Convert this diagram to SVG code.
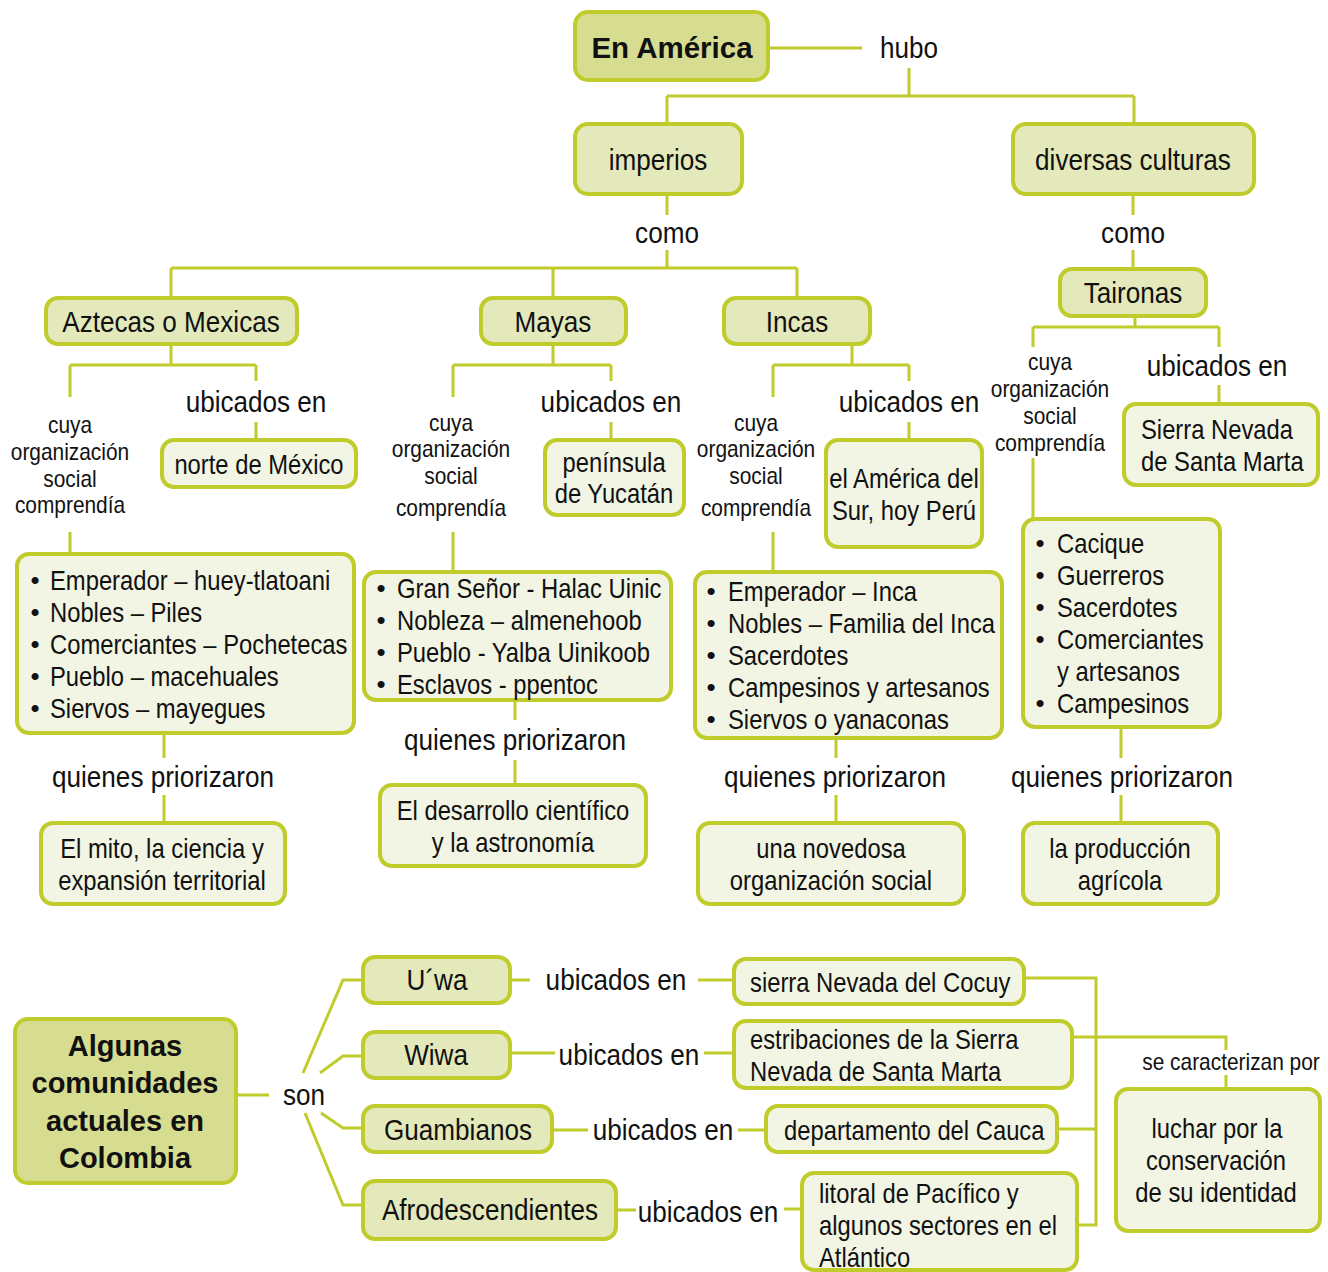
<svg xmlns="http://www.w3.org/2000/svg" width="1328" height="1272" viewBox="0 0 1328 1272">
<style>
.bx{stroke:#bfcc2c;stroke-width:4}
.d{fill:#d6dd91}.md{fill:#e3e9ba}.l{fill:#f2f5e4}
.t{font-family:"Liberation Sans",Arial,sans-serif;fill:#111;dominant-baseline:central;transform-box:fill-box;transform:scaleX(.87)}
.m{text-anchor:middle;transform-origin:50% 50%}
.s{text-anchor:start;transform-origin:0% 50%}
.f30{font-size:30px}.f28{font-size:28px;transform:scaleX(.85)}.f24{font-size:24px}
.bd{font-family:"Liberation Sans",Arial,sans-serif;font-weight:bold;fill:#111;text-anchor:middle;dominant-baseline:central}
.bu{font-family:"Liberation Sans",Arial,sans-serif;font-size:26px;fill:#111;dominant-baseline:central;text-anchor:middle}
</style>
<rect width="1328" height="1272" fill="#fff"/>
<g id="connectors" fill="none" stroke="#bfcc2c" stroke-width="3">
<path d="M768,48H862M909,68V96M667,96H1134M667,96V124M1134,96V124"/>
<path d="M667,194V215M667,250V268M171,268H797M171,268V298M553,268V298M797,268V298"/>
<path d="M1133,194V215M1133,250V269"/>
<path d="M1135,316V327M1033,327H1219M1033,327V347M1219,327V347M1033,458V519M1219,385V404"/>
<path d="M171,344V365M70,365H256M70,365V397M256,365V381M256,422V440M70,532V554M164,733V758M164,795V823"/>
<path d="M553,344V365M453,365H611M453,365V397M611,365V381M611,422V440M453,532V572M515,700V720M515,760V785"/>
<path d="M852,344V365M773,365H909M773,365V397M909,365V381M909,422V440M773,532V572M836,738V758M836,795V823"/>
<path d="M1121,727V758M1121,795V823"/>
<path d="M236,1095H269M303,1073L343,980H363M320,1073L343,1056H363M321,1113L343,1128H363M305,1113L343,1205H363"/>
<path d="M510,980H530M698,980H734M510,1053H555M704,1053H734M552,1130H588M738,1130H766M616,1210H636M784,1209H802"/>
<path d="M1024,978H1096V1225H1077M1057,1129H1096M1072,1037H1226V1050M1226,1075V1088"/>
</g>
<g id="en-america"><rect class="bx d" x="575" y="12" width="193" height="68" rx="13"/><text class="bd" x="672" y="47" font-size="29.5">En América</text></g>
<g id="hubo"><text class="t m f30" x="909" y="48">hubo</text></g>
<g id="imperios"><rect class="bx md" x="575" y="124" width="167" height="70" rx="13"/><text class="t m f30" x="658" y="160">imperios</text></g>
<g id="diversas"><rect class="bx md" x="1013" y="124" width="241" height="70" rx="13"/><text class="t m f30" x="1133" y="160">diversas culturas</text></g>
<g id="como1"><text class="t m f30" x="667" y="233">como</text></g>
<g id="como2"><text class="t m f30" x="1133" y="233">como</text></g>
<g id="taironas"><rect class="bx md" x="1060" y="269" width="146" height="47" rx="12"/><text class="t m f30" x="1133" y="293">Taironas</text></g>
<g id="aztecas"><rect class="bx md" x="46" y="298" width="251" height="46" rx="12"/><text class="t m f30" x="171" y="322">Aztecas o Mexicas</text></g>
<g id="mayas"><rect class="bx md" x="481" y="298" width="145" height="46" rx="12"/><text class="t m f30" x="553" y="322">Mayas</text></g>
<g id="incas"><rect class="bx md" x="724" y="298" width="146" height="46" rx="12"/><text class="t m f30" x="797" y="322">Incas</text></g>
<g id="lbl-ubicados"><text class="t m f30" x="256" y="402">ubicados en</text><text class="t m f30" x="611" y="402">ubicados en</text><text class="t m f30" x="909" y="402">ubicados en</text><text class="t m f30" x="1217" y="366">ubicados en</text></g>
<g id="lbl-cuya">
<text class="t m f24" x="70" y="425">cuya</text><text class="t m f24" x="70" y="452">organización</text><text class="t m f24" x="70" y="479">social</text><text class="t m f24" x="70" y="505">comprendía</text>
<text class="t m f24" x="451" y="423">cuya</text><text class="t m f24" x="451" y="449">organización</text><text class="t m f24" x="451" y="476">social</text><text class="t m f24" x="451" y="508">comprendía</text>
<text class="t m f24" x="756" y="423">cuya</text><text class="t m f24" x="756" y="449">organización</text><text class="t m f24" x="756" y="476">social</text><text class="t m f24" x="756" y="508">comprendía</text>
<text class="t m f24" x="1050" y="362">cuya</text><text class="t m f24" x="1050" y="389">organización</text><text class="t m f24" x="1050" y="416">social</text><text class="t m f24" x="1050" y="443">comprendía</text>
</g>
<g id="norte"><rect class="bx l" x="162" y="440" width="194" height="47" rx="12"/><text class="t m f28" x="259" y="464">norte de México</text></g>
<g id="peninsula"><rect class="bx l" x="545" y="440" width="139" height="75" rx="12"/><text class="t m f28" x="614" y="462">península</text><text class="t m f28" x="614" y="493">de Yucatán</text></g>
<g id="america-sur"><rect class="bx l" x="826" y="440" width="156" height="107" rx="12"/><text class="t m f28" x="904" y="478">el América del</text><text class="t m f28" x="904" y="510">Sur, hoy Perú</text></g>
<g id="sierra-nevada"><rect class="bx l" x="1124" y="404" width="194" height="81" rx="12"/><text class="t s f28" x="1141" y="429">Sierra Nevada</text><text class="t s f28" x="1141" y="461">de Santa Marta</text></g>
<g id="aztecas-lista"><rect class="bx l" x="17" y="554" width="337" height="179" rx="12"/>
<text class="bu" x="35" y="580">•</text><text class="t s f28" x="50" y="580">Emperador – huey-tlatoani</text>
<text class="bu" x="35" y="612">•</text><text class="t s f28" x="50" y="612">Nobles – Piles</text>
<text class="bu" x="35" y="644">•</text><text class="t s f28" x="50" y="644">Comerciantes – Pochetecas</text>
<text class="bu" x="35" y="676">•</text><text class="t s f28" x="50" y="676">Pueblo – macehuales</text>
<text class="bu" x="35" y="708">•</text><text class="t s f28" x="50" y="708">Siervos – mayegues</text></g>
<g id="mayas-lista"><rect class="bx l" x="364" y="572" width="307" height="128" rx="12"/>
<text class="bu" x="381" y="588">•</text><text class="t s f28" x="397" y="588">Gran Señor - Halac Uinic</text>
<text class="bu" x="381" y="620">•</text><text class="t s f28" x="397" y="620">Nobleza – almenehoob</text>
<text class="bu" x="381" y="652">•</text><text class="t s f28" x="397" y="652">Pueblo - Yalba Uinikoob</text>
<text class="bu" x="381" y="684">•</text><text class="t s f28" x="397" y="684">Esclavos - ppentoc</text></g>
<g id="incas-lista"><rect class="bx l" x="695" y="572" width="307" height="166" rx="12"/>
<text class="bu" x="711" y="591">•</text><text class="t s f28" x="728" y="591">Emperador – Inca</text>
<text class="bu" x="711" y="623">•</text><text class="t s f28" x="728" y="623">Nobles – Familia del Inca</text>
<text class="bu" x="711" y="655">•</text><text class="t s f28" x="728" y="655">Sacerdotes</text>
<text class="bu" x="711" y="687">•</text><text class="t s f28" x="728" y="687">Campesinos y artesanos</text>
<text class="bu" x="711" y="719">•</text><text class="t s f28" x="728" y="719">Siervos o yanaconas</text></g>
<g id="taironas-lista"><rect class="bx l" x="1023" y="519" width="197" height="208" rx="12"/>
<text class="bu" x="1040" y="543">•</text><text class="t s f28" x="1057" y="543">Cacique</text>
<text class="bu" x="1040" y="575">•</text><text class="t s f28" x="1057" y="575">Guerreros</text>
<text class="bu" x="1040" y="607">•</text><text class="t s f28" x="1057" y="607">Sacerdotes</text>
<text class="bu" x="1040" y="639">•</text><text class="t s f28" x="1057" y="639">Comerciantes</text>
<text class="t s f28" x="1057" y="671">y artesanos</text>
<text class="bu" x="1040" y="703">•</text><text class="t s f28" x="1057" y="703">Campesinos</text></g>
<g id="lbl-quienes"><text class="t m f30" x="163" y="777">quienes priorizaron</text><text class="t m f30" x="515" y="740">quienes priorizaron</text><text class="t m f30" x="835" y="777">quienes priorizaron</text><text class="t m f30" x="1122" y="777">quienes priorizaron</text></g>
<g id="el-mito"><rect class="bx l" x="41" y="823" width="244" height="81" rx="12"/><text class="t m f28" x="162" y="848">El mito, la ciencia y</text><text class="t m f28" x="162" y="880">expansión territorial</text></g>
<g id="desarrollo"><rect class="bx l" x="380" y="785" width="266" height="81" rx="12"/><text class="t m f28" x="513" y="810">El desarrollo científico</text><text class="t m f28" x="513" y="842">y la astronomía</text></g>
<g id="novedosa"><rect class="bx l" x="698" y="823" width="266" height="81" rx="12"/><text class="t m f28" x="831" y="848">una novedosa</text><text class="t m f28" x="831" y="880">organización social</text></g>
<g id="produccion"><rect class="bx l" x="1023" y="823" width="195" height="81" rx="12"/><text class="t m f28" x="1120" y="848">la producción</text><text class="t m f28" x="1120" y="880">agrícola</text></g>
<g id="algunas"><rect class="bx d" x="15" y="1019" width="221" height="164" rx="13"/>
<text class="bd" x="125" y="1046" font-size="29">Algunas</text><text class="bd" x="125" y="1083" font-size="29">comunidades</text><text class="bd" x="125" y="1121" font-size="29">actuales en</text><text class="bd" x="125" y="1158" font-size="29">Colombia</text></g>
<g id="son"><text class="t m f30" x="304" y="1095">son</text></g>
<g id="uwa"><rect class="bx md" x="363" y="957" width="147" height="46" rx="12"/><text class="t m f30" x="437" y="980">U´wa</text></g>
<g id="wiwa"><rect class="bx md" x="363" y="1032" width="147" height="46" rx="12"/><text class="t m f30" x="436" y="1055">Wiwa</text></g>
<g id="guambianos"><rect class="bx md" x="363" y="1106" width="189" height="46" rx="12"/><text class="t m f30" x="458" y="1130">Guambianos</text></g>
<g id="afro"><rect class="bx md" x="363" y="1181" width="253" height="58" rx="12"/><text class="t m f30" x="490" y="1210">Afrodescendientes</text></g>
<g id="lbl-ubicados2"><text class="t m f30" x="616" y="980">ubicados en</text><text class="t m f30" x="629" y="1055">ubicados en</text><text class="t m f30" x="663" y="1130">ubicados en</text><text class="t m f30" x="708" y="1212">ubicados en</text></g>
<g id="cocuy"><rect class="bx l" x="734" y="959" width="290" height="45" rx="12"/><text class="t s f28" x="750" y="982">sierra Nevada del Cocuy</text></g>
<g id="estribaciones"><rect class="bx l" x="734" y="1021" width="338" height="67" rx="12"/><text class="t s f28" x="750" y="1039">estribaciones de la Sierra</text><text class="t s f28" x="750" y="1071">Nevada de Santa Marta</text></g>
<g id="cauca"><rect class="bx l" x="766" y="1106" width="291" height="46" rx="12"/><text class="t s f28" x="784" y="1130">departamento del Cauca</text></g>
<g id="litoral"><rect class="bx l" x="802" y="1173" width="275" height="97" rx="12"/><text class="t s f28" x="819" y="1193">litoral de Pacífico y</text><text class="t s f28" x="819" y="1225">algunos sectores en el</text><text class="t s f28" x="819" y="1257">Atlántico</text></g>
<g id="se-caracterizan"><text class="t m f24" x="1231" y="1062">se caracterizan por</text></g>
<g id="luchar"><rect class="bx l" x="1116" y="1089" width="204" height="142" rx="12"/><text class="t m f28" x="1217" y="1128">luchar por la</text><text class="t m f28" x="1216" y="1160">conservación</text><text class="t m f28" x="1216" y="1192">de su identidad</text></g>
</svg>
